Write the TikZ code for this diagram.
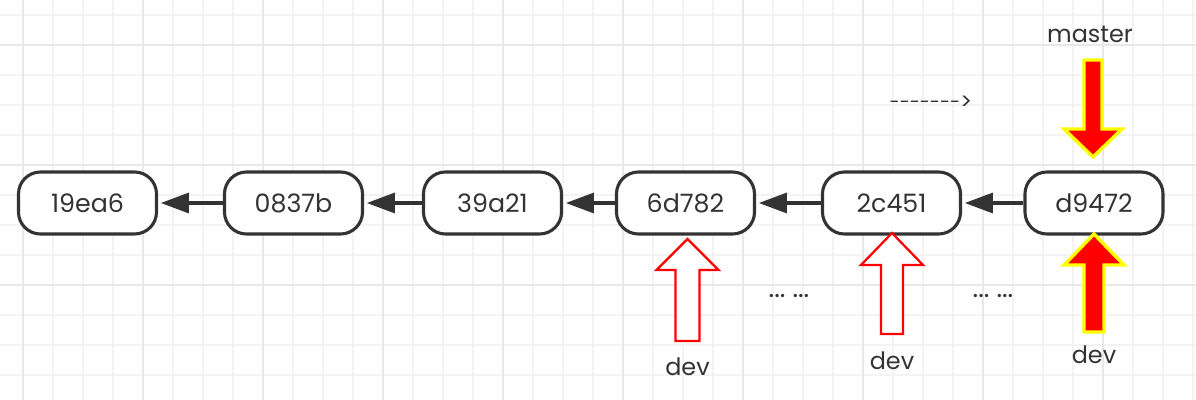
\documentclass[tikz,border=0pt]{standalone}
\usepackage{fontspec}
\setmainfont{Poppins}
\usepackage{tikz}
\usetikzlibrary{positioning,calc,arrows.meta}

\definecolor{gridminor}{HTML}{F3F3F3}
\definecolor{gridmajor}{HTML}{E8E8E8}
\definecolor{inkgray}{HTML}{333333}
\definecolor{ptryellow}{HTML}{FFFF00}

\tikzset{
  commit/.style={draw=inkgray, line width=2.2pt, rounded corners=0.55cm, fill=white,
    minimum width=3.45cm, minimum height=1.55cm, inner sep=0pt,
    font=\fontsize{18}{20}\selectfont, text=inkgray},
  parent/.style={draw=inkgray, line width=2.2pt, -{Triangle[length=0.7cm, width=0.5cm]}, shorten >=2pt},
  hollowptr/.style={draw=red, line width=1.6pt, fill=white, line join=miter},
  headptr/.style={draw=ptryellow, line width=2.4pt, fill=red, line join=miter},
  lbl/.style={font=\fontsize{17}{20}\selectfont, text=inkgray, inner sep=0pt}
}

\begin{document}
\begin{tikzpicture}[x=0.025cm, y=-0.025cm]
  \useasboundingbox (0,0) rectangle (1196,400);
  \fill[white] (0,0) rectangle (1196,400);

  % Grid
  \foreach \gx in {23,53,...,1193} \draw[gridminor, line width=1.2pt] (\gx,0) -- (\gx,400);
  \foreach \gy in {15,45,...,395} \draw[gridminor, line width=1.2pt] (0,\gy) -- (1196,\gy);
  \foreach \gx in {23,143,...,1163} \draw[gridmajor, line width=1.4pt] (\gx,0) -- (\gx,400);
  \foreach \gy in {45,165,285} \draw[gridmajor, line width=1.4pt] (0,\gy) -- (1196,\gy);

  % Commits
  \node[commit] (c1) at (87.5,203) {19ea6};
  \node[commit] (c2) at (293.5,203) {0837b};
  \node[commit] (c3) at (492.5,203) {39a21};
  \node[commit] (c4) at (685.5,203) {6d782};
  \node[commit] (c5) at (891.5,203) {2c451};
  \node[commit] (c6) at (1094,203) {d9472};

  % Parent links
  \draw[parent] (c2) -- (c1);
  \draw[parent] (c3) -- (c2);
  \draw[parent] (c4) -- (c3);
  \draw[parent] (c5) -- (c4);
  \draw[parent] (c6) -- (c5);

  % Old dev pointers (hollow)
  \draw[hollowptr] (687.5,239) -- (718.5,270) -- (699.5,270) -- (699.5,341)
    -- (675.5,341) -- (675.5,270) -- (656.5,270) -- cycle;
  \node[lbl] (dev1) at (687.5,367) {dev};
  \draw[hollowptr] (892,233) -- (923,265) -- (903,265) -- (903,334)
    -- (881,334) -- (881,265) -- (861,265) -- cycle;
  \node[lbl] (dev2) at (892,361) {dev};

  % Current dev pointer
  \draw[headptr] (1094,234) -- (1124,265) -- (1104,265) -- (1104,332)
    -- (1084,332) -- (1084,265) -- (1064,265) -- cycle;
  \node[lbl] (dev3) at (1094,355) {dev};

  % master pointer
  \draw[headptr] (1093,157) -- (1122,129) -- (1102,129) -- (1102,60)
    -- (1084,60) -- (1084,129) -- (1064,129) -- cycle;
  \node[lbl] (master) at (1090,34) {master};

  % Notes
  \node[lbl, font=\fontsize{13}{14}\selectfont] (fwd) at (931,103) {-{}-{}-{}-{}-{}-{}-{}\raisebox{-0.5pt}{\fontsize{16}{16}\selectfont >}};
  \node[lbl, font=\fontsize{19}{20}\selectfont] (gap1) at (789,296) {...\hspace{5pt}...};
  \node[lbl, font=\fontsize{19}{20}\selectfont] (gap2) at (993,296) {...\hspace{5pt}...};
\end{tikzpicture}
\end{document}
